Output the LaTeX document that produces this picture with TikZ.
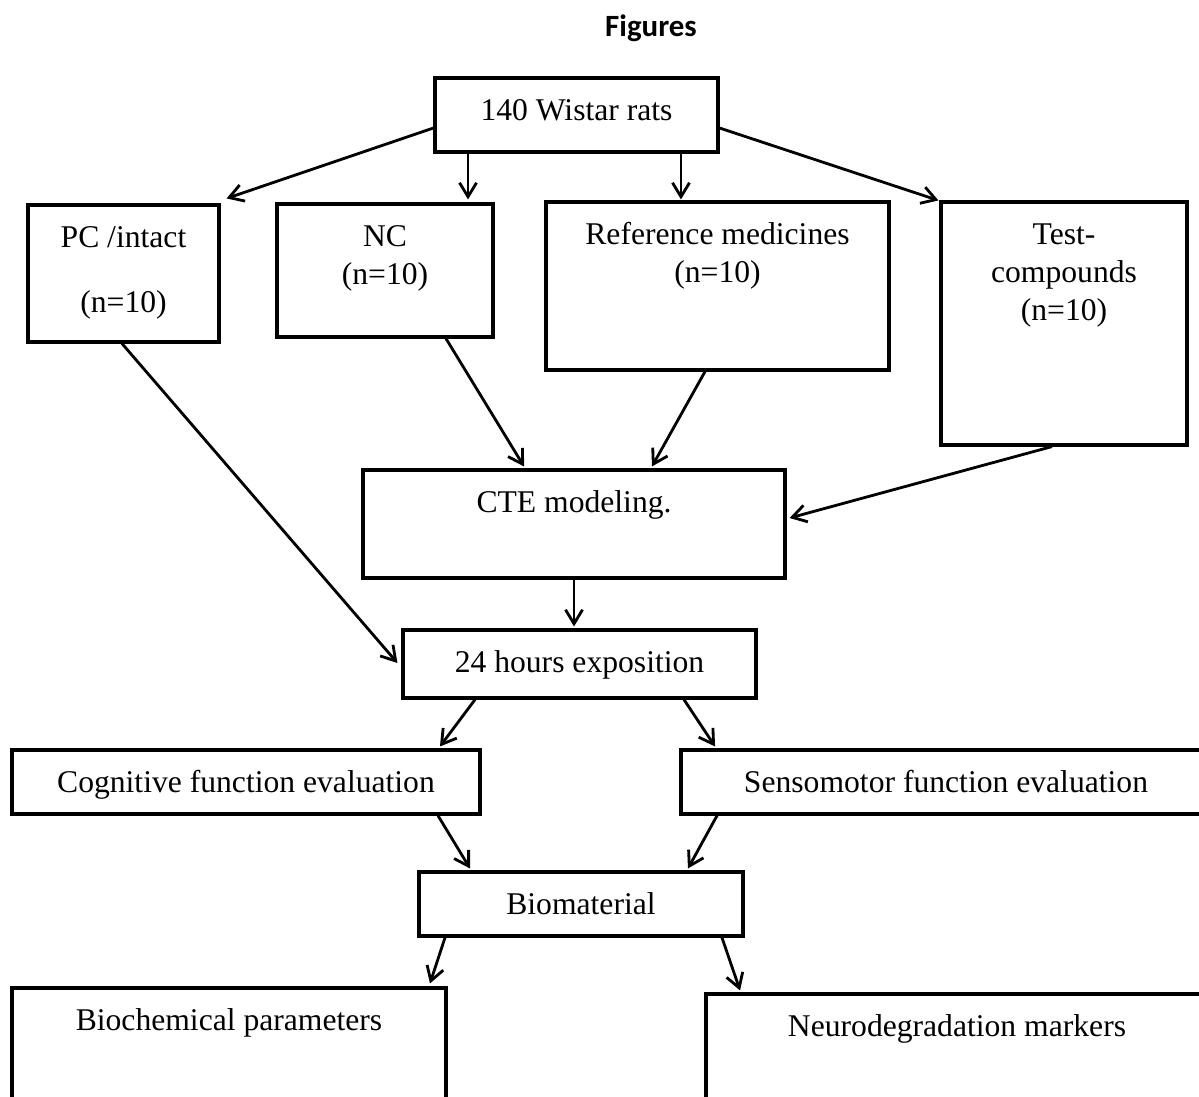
\documentclass[tikz,border=0pt]{standalone}
\usepackage{fontspec}
\setmainfont{Liberation Serif}
\newfontfamily\titlefont{Carlito}
\usetikzlibrary{arrows.meta}

% box text: width, height, lines (first baseline fixed below the top edge)
\newcommand{\boxtext}[3]{\parbox[c][#2][t]{#1}{\centering\rule{0pt}{0.85cm}#3}}

\tikzset{
  box/.style={draw, line width=1.8pt, inner sep=0pt, fill=white,
    font=\fontsize{18}{21.6}\selectfont},
  flow/.style={line width=1.6pt, -{Straight Barb[length=0.28cm, width=0.34cm, line width=1.6pt]}}
}

\begin{document}
\begin{tikzpicture}[x=0.02cm, y=-0.02cm]
\useasboundingbox (0,0) rectangle (1199,1096);

\node[font=\titlefont\bfseries\fontsize{17.6}{20}\selectfont] (title) at (651,28) {Figures};

% groups
\node[box] (wistar) at (576.5,115) {\boxtext{5.66cm}{1.48cm}{140 Wistar rats}};
\node[box] (pc) at (123.5,273.5) {\boxtext{3.82cm}{2.74cm}{PC /intact\\[0.54cm](n=10)}};
\node[box] (nc) at (385,270.5) {\boxtext{4.32cm}{2.66cm}{NC\\(n=10)}};
\node[box] (refmed) at (717.5,286) {\boxtext{6.86cm}{3.36cm}{Reference medicines\\(n=10)}};
\node[box] (test) at (1064,323.5) {\boxtext{4.92cm}{4.86cm}{Test-\\compounds\\(n=10)}};

% procedure
\node[box] (cte) at (574,524) {\boxtext{8.44cm}{2.16cm}{CTE modeling.}};
\node[box] (expo) at (579.5,664) {\boxtext{7.06cm}{1.36cm}{24 hours exposition}};
\node[box] (cog) at (246,782) {\boxtext{9.36cm}{1.28cm}{Cognitive function evaluation}};
\node[box] (sens) at (946,782) {\boxtext{10.6cm}{1.28cm}{Sensomotor function evaluation}};
\node[box] (biomat) at (581,904) {\boxtext{6.48cm}{1.28cm}{Biomaterial}};
\node[box] (biochem) at (229,1053) {\boxtext{8.68cm}{2.6cm}{Biochemical parameters}};
\node[box] (neuro) at (957,1059) {\boxtext{10.04cm}{2.6cm}{Neurodegradation markers}};

% connectors
\draw[flow] ([yshift=-0.26cm]wistar.west) -- ([xshift=0.12cm,yshift=0.1cm]pc.north east);
\draw[flow] ([xshift=-2.17cm]wistar.south) -- ([xshift=-2.17cm,yshift=0.06cm]wistar.south |- nc.north);
\draw[flow] ([xshift=2.09cm]wistar.south) -- ([xshift=2.09cm,yshift=0.02cm]wistar.south |- refmed.north);
\draw[flow] ([yshift=-0.26cm]wistar.east) -- ([xshift=-0.02cm]test.north west);
\draw[flow] ([xshift=-0.03cm]pc.south) -- ([xshift=-0.08cm,yshift=0.02cm]expo.west);
\draw[flow] ([xshift=1.22cm]nc.south) -- ([xshift=-1.0cm,yshift=0.04cm]cte.north);
\draw[flow] ([xshift=-0.25cm]refmed.south) -- ([xshift=1.56cm,yshift=0.04cm]cte.north);
\draw[flow] ([xshift=-0.24cm]test.south) -- ([xshift=0.06cm,yshift=0.12cm]cte.east);
\draw[flow] (cte.south) -- ([yshift=0.04cm]cte.south |- expo.north);
\draw[flow] ([xshift=-2.09cm]expo.south) -- ([xshift=3.88cm,yshift=0.04cm]cog.north);
\draw[flow] ([xshift=2.09cm]expo.south) -- ([xshift=-4.62cm,yshift=0.04cm]sens.north);
\draw[flow] ([xshift=3.84cm]cog.south) -- ([xshift=-2.22cm,yshift=0.04cm]biomat.north);
\draw[flow] ([xshift=-4.58cm]sens.south) -- ([xshift=2.14cm,yshift=0.04cm]biomat.north);
\draw[flow] ([xshift=-2.72cm]biomat.south) -- ([xshift=4.02cm,yshift=0.06cm]biochem.north);
\draw[flow] ([xshift=2.82cm]biomat.south) -- ([xshift=-4.34cm,yshift=0.04cm]neuro.north);
\end{tikzpicture}
\end{document}
